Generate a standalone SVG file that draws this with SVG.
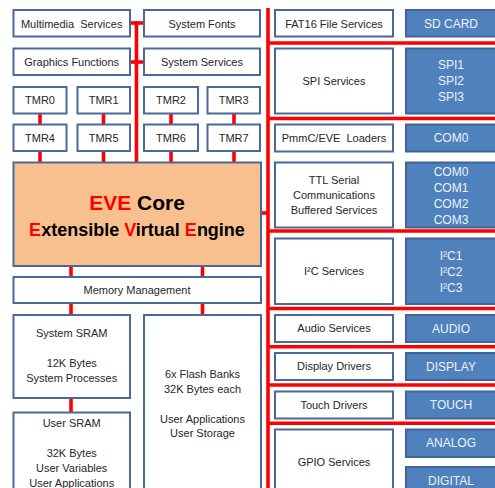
<svg xmlns="http://www.w3.org/2000/svg" width="495" height="488" viewBox="0 0 495 488">
<style>
.w{fill:#ffffff;stroke:#48699A;stroke-width:2}
.b{fill:#4F81BD;stroke:#3F6594;stroke-width:2}
.e{fill:#F9C08F;stroke:#48699A;stroke-width:2}
.t{font-family:"Liberation Sans",Arial,sans-serif;font-size:11px;fill:#262626;text-anchor:middle;white-space:pre}
.tb{font-family:"Liberation Sans",Arial,sans-serif;font-size:12px;fill:#EEF3FA;text-anchor:middle}
.c{stroke:#FF0000;stroke-width:3.6;fill:none}
.big{font-family:"Liberation Sans",Arial,sans-serif;font-weight:bold;fill:#000000;text-anchor:middle}
.r{fill:#FF0000}
</style>
<rect width="495" height="488" fill="#ffffff"/>
<g id="connectors">
<line class="c" x1="136.5" y1="21" x2="136.5" y2="162"/>
<line class="c" x1="130" y1="23" x2="144" y2="23"/>
<line class="c" x1="130" y1="62" x2="144" y2="62"/>
<line class="c" x1="40" y1="113" x2="40" y2="124"/>
<line class="c" x1="103.5" y1="113" x2="103.5" y2="124"/>
<line class="c" x1="171" y1="113" x2="171" y2="124"/>
<line class="c" x1="234" y1="113" x2="234" y2="124"/>
<line class="c" x1="40" y1="151" x2="40" y2="162"/>
<line class="c" x1="103.5" y1="151" x2="103.5" y2="162"/>
<line class="c" x1="171" y1="151" x2="171" y2="162"/>
<line class="c" x1="234" y1="151" x2="234" y2="162"/>
<line class="c" x1="71" y1="266" x2="71" y2="277"/>
<line class="c" x1="202.5" y1="266" x2="202.5" y2="277"/>
<line class="c" x1="71" y1="303" x2="71" y2="315"/>
<line class="c" x1="202.5" y1="303" x2="202.5" y2="315"/>
<line class="c" x1="71" y1="398" x2="71" y2="412"/>
<line class="c" x1="268" y1="8" x2="268" y2="488"/>
<line class="c" x1="261" y1="213" x2="268" y2="213"/>
<line class="c" x1="268" y1="43" x2="495" y2="43"/>
<line class="c" x1="268" y1="118.5" x2="495" y2="118.5"/>
<line class="c" x1="268" y1="231" x2="495" y2="231"/>
<line class="c" x1="268" y1="308.5" x2="495" y2="308.5"/>
<line class="c" x1="268" y1="346.7" x2="495" y2="346.7"/>
<line class="c" x1="268" y1="385" x2="495" y2="385"/>
<line class="c" x1="268" y1="423.3" x2="495" y2="423.3"/>
</g>
<g id="multimedia"><rect class="w" x="13.5" y="10" width="116.5" height="26.5"/><text class="t" x="71.7" y="27.5" xml:space="preserve">Multimedia  Services</text></g>
<g id="sysfonts"><rect class="w" x="144" y="10" width="116" height="26.5"/><text class="t" x="202" y="27.5">System Fonts</text></g>
<g id="graphics"><rect class="w" x="13.5" y="48.5" width="116.5" height="26.5"/><text class="t" x="71.7" y="65.8">Graphics Functions</text></g>
<g id="sysservices"><rect class="w" x="144" y="48.5" width="116" height="26.5"/><text class="t" x="202" y="65.8">System Services</text></g>
<g id="tmr0"><rect class="w" x="13.5" y="87" width="53" height="26.5"/><text class="t" x="40" y="104.3">TMR0</text></g>
<g id="tmr1"><rect class="w" x="77.5" y="87" width="52.5" height="26.5"/><text class="t" x="103.7" y="104.3">TMR1</text></g>
<g id="tmr2"><rect class="w" x="144" y="87" width="54" height="26.5"/><text class="t" x="171" y="104.3">TMR2</text></g>
<g id="tmr3"><rect class="w" x="207.5" y="87" width="52.5" height="26.5"/><text class="t" x="233.7" y="104.3">TMR3</text></g>
<g id="tmr4"><rect class="w" x="13.5" y="124.5" width="53" height="26.5"/><text class="t" x="40" y="141.8">TMR4</text></g>
<g id="tmr5"><rect class="w" x="77.5" y="124.5" width="52.5" height="26.5"/><text class="t" x="103.7" y="141.8">TMR5</text></g>
<g id="tmr6"><rect class="w" x="144" y="124.5" width="54" height="26.5"/><text class="t" x="171" y="141.8">TMR6</text></g>
<g id="tmr7"><rect class="w" x="207.5" y="124.5" width="52.5" height="26.5"/><text class="t" x="233.7" y="141.8">TMR7</text></g>
<g id="eve"><rect class="e" x="13.5" y="162.5" width="247.5" height="103.5"/>
<text class="big" x="137" y="210" font-size="21"><tspan class="r">EVE</tspan> Core</text>
<text class="big" x="137" y="236" font-size="18"><tspan class="r">E</tspan>xtensible <tspan class="r">V</tspan>irtual <tspan class="r">E</tspan>ngine</text></g>
<g id="memory"><rect class="w" x="13.5" y="277" width="247.5" height="26"/><text class="t" x="137" y="294">Memory Management</text></g>
<g id="syssram"><rect class="w" x="13.5" y="315" width="116.5" height="83"/>
<text class="t" x="71.7" y="337">System SRAM</text><text class="t" x="71.7" y="367">12K Bytes</text><text class="t" x="71.7" y="382">System Processes</text></g>
<g id="flash"><rect class="w" x="144" y="315" width="117" height="185"/>
<text class="t" x="202.5" y="378.3">6x Flash Banks</text><text class="t" x="202.5" y="393">32K Bytes each</text><text class="t" x="202.5" y="422.7">User Applications</text><text class="t" x="202.5" y="437.3">User Storage</text></g>
<g id="usersram"><rect class="w" x="13.5" y="412.5" width="116.5" height="90"/>
<text class="t" x="71.7" y="427">User SRAM</text><text class="t" x="71.7" y="457">32K Bytes</text><text class="t" x="71.7" y="472">User Variables</text><text class="t" x="71.7" y="486.5">User Applications</text></g>
<g id="fat16"><rect class="w" x="275" y="10" width="118" height="26.5"/><text class="t" x="334" y="27.5">FAT16 File Services</text></g>
<g id="sdcard"><rect class="b" x="406" y="10" width="95" height="26.5"/><text class="tb" x="451" y="27.8">SD CARD</text></g>
<g id="spi"><rect class="w" x="275" y="48.5" width="118" height="65"/><text class="t" x="334" y="85">SPI Services</text></g>
<g id="spiports"><rect class="b" x="406" y="48.5" width="95" height="65"/><text class="tb" x="451" y="68.5">SPI1</text><text class="tb" x="451" y="85">SPI2</text><text class="tb" x="451" y="101">SPI3</text></g>
<g id="pmmc"><rect class="w" x="275" y="124.5" width="118" height="27"/><text class="t" x="334" y="141.8" xml:space="preserve">PmmC/EVE  Loaders</text></g>
<g id="com0"><rect class="b" x="406" y="124.5" width="95" height="27"/><text class="tb" x="451" y="142">COM0</text></g>
<g id="ttl"><rect class="w" x="275" y="162.5" width="118" height="65"/>
<text class="t" x="334" y="184.3">TTL Serial</text><text class="t" x="334" y="199">Communications</text><text class="t" x="334" y="214">Buffered Services</text></g>
<g id="comports"><rect class="b" x="406" y="162.5" width="95" height="65"/>
<text class="tb" x="451" y="175.5">COM0</text><text class="tb" x="451" y="192">COM1</text><text class="tb" x="451" y="208">COM2</text><text class="tb" x="451" y="224.3">COM3</text></g>
<g id="i2c"><rect class="w" x="275" y="238.5" width="118" height="65.5"/><text class="t" x="334" y="275">I²C Services</text></g>
<g id="i2cports"><rect class="b" x="406" y="238.5" width="95" height="65.5"/>
<text class="tb" x="451" y="259.5">I²C1</text><text class="tb" x="451" y="275.8">I²C2</text><text class="tb" x="451" y="292">I²C3</text></g>
<g id="audio"><rect class="w" x="275" y="315" width="118" height="27"/><text class="t" x="334" y="332.3">Audio Services</text></g>
<g id="audioport"><rect class="b" x="406" y="315" width="95" height="27"/><text class="tb" x="451" y="332.7">AUDIO</text></g>
<g id="display"><rect class="w" x="275" y="353" width="118" height="27"/><text class="t" x="334" y="370">Display Drivers</text></g>
<g id="displayport"><rect class="b" x="406" y="353" width="95" height="27"/><text class="tb" x="451" y="370.5">DISPLAY</text></g>
<g id="touch"><rect class="w" x="275" y="391.5" width="118" height="27"/><text class="t" x="334" y="408.5">Touch Drivers</text></g>
<g id="touchport"><rect class="b" x="406" y="391.5" width="95" height="27"/><text class="tb" x="451" y="409">TOUCH</text></g>
<g id="gpio"><rect class="w" x="275" y="429.5" width="118" height="70"/><text class="t" x="334" y="465.7">GPIO Services</text></g>
<g id="analog"><rect class="b" x="406" y="429.5" width="95" height="27.5"/><text class="tb" x="451" y="447">ANALOG</text></g>
<g id="digital"><rect class="b" x="406" y="467" width="95" height="30"/><text class="tb" x="451" y="485.3">DIGITAL</text></g>
</svg>
